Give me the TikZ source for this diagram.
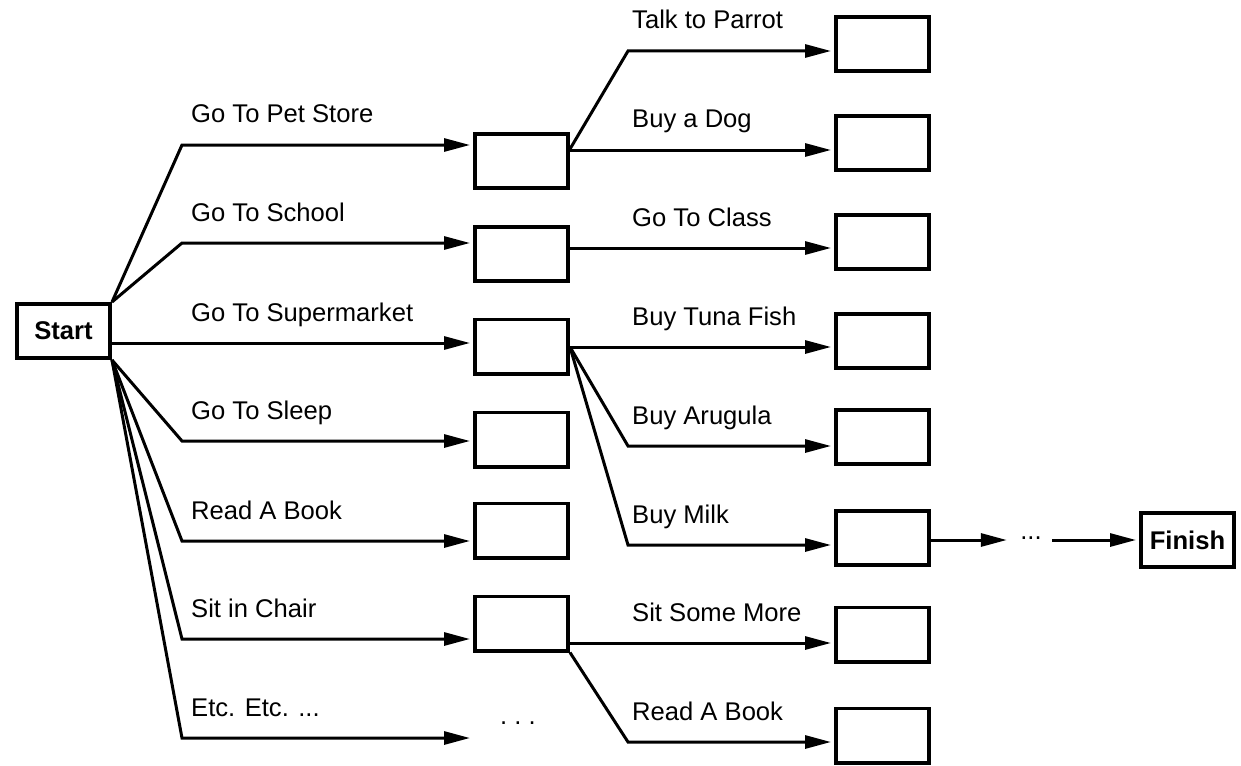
\documentclass[tikz,border=0pt]{standalone}
\usepackage{fontspec}
\setmainfont{Liberation Sans}
\usetikzlibrary{arrows.meta}
\begin{document}
\begin{tikzpicture}[x=1pt,y=-1pt,
  every node/.style={font=\fontsize{25.6}{30}\selectfont},
  box/.style={draw, line width=3.6pt, minimum width=93.4pt, minimum height=54.4pt, inner sep=0pt},
  conn/.style={line width=3pt},
  arr/.style={conn, -{Triangle[length=26pt,width=13pt]}, shorten >=3pt},
  lbl/.style={anchor=base west, inner sep=0pt}]
\useasboundingbox (0,0) rectangle (1241,765);
% nodes
\node[box] (start) at (63.5,331) {\bfseries Start};
\node[box] (pet) at (521.5,161) {};
\node[box] (school) at (521.5,254) {};
\node[box] (super) at (521.5,346.5) {};
\node[box] (sleep) at (521.5,439.5) {};
\node[box] (read) at (521.5,530.5) {};
\node[box] (sit) at (521.5,623.5) {};
\node[anchor=base, inner sep=0pt] (etcdots) at (518,724) {.\ .\ .};
\coordinate (etcend) at (473,738);
\node[box] (parrot) at (882.5,44) {};
\node[box] (dog) at (882.5,143) {};
\node[box] (class) at (882.5,242) {};
\node[box] (tuna) at (882.5,341) {};
\node[box] (arugula) at (882.5,437) {};
\node[box] (milk) at (882.5,538) {};
\node[box] (sitmore) at (882.5,634.5) {};
\node[box] (readmore) at (882.5,735.5) {};
\node[inner sep=0pt, minimum width=42pt, minimum height=8pt] (dots) at (1031,540) {\raisebox{4pt}{...}};
\node[box] (finish) at (1187.5,540) {\bfseries Finish};
% connectors from start
\draw[arr] (start.north east) -- (182,145) -- (pet.west |- 0,145);
\draw[arr] (start.north east) -- (182,243) -- (school.west |- 0,243);
\draw[arr] (start.east |- 0,343) -- (super.west |- 0,343);
\draw[arr] (start.south east) -- (182,441) -- (sleep.west |- 0,441);
\draw[arr] (start.south east) -- (182,541) -- (read.west |- 0,541);
\draw[arr] (start.south east) -- (182,639) -- (sit.west |- 0,639);
\draw[arr] (start.south east) -- (182,738) -- (etcend);
% second level
\draw[arr] (pet.east |- 0,149) -- (628,51) -- (parrot.west |- 0,51);
\draw[arr] (pet.east |- 0,150) -- (dog.west |- 0,150);
\draw[arr] (school.east |- 0,248) -- (class.west |- 0,248);
\draw[arr] (super.east |- 0,347) -- (tuna.west |- 0,347);
\draw[arr] (super.east |- 0,347) -- (628,446) -- (arugula.west |- 0,446);
\draw[arr] (super.east |- 0,347) -- (628,545) -- (milk.west |- 0,545);
\draw[arr] (sit.east |- 0,643) -- (sitmore.west |- 0,643);
\draw[arr] (sit.south east) -- (628,742) -- (readmore.west |- 0,742);
% to finish
\draw[arr] (milk.east |- 0,540) -- (dots.west);
\draw[arr] (dots.east) -- (finish.west);
% labels left
\node[lbl] (l1) at (191,123) {Go To Pet Store};
\node[lbl] (l2) at (191,221) {Go To School};
\node[lbl] (l3) at (191,321) {Go To Supermarket};
\node[lbl] (l4) at (191,419) {Go To Sleep};
\node[lbl] (l5) at (191,519) {Read A Book};
\node[lbl] (l6) at (191,617) {Sit in Chair};
\node[lbl] (l7) at (191,716) {Etc. Etc. ...};
% labels right
\node[lbl] (r1) at (632,29) {Talk to Parrot};
\node[lbl] (r2) at (632,128) {Buy a Dog};
\node[lbl] (r3) at (632,226) {Go To Class};
\node[lbl] (r4) at (632,325) {Buy Tuna Fish};
\node[lbl] (r5) at (632,424) {Buy Arugula};
\node[lbl] (r6) at (632,523) {Buy Milk};
\node[lbl] (r7) at (632,621) {Sit Some More};
\node[lbl] (r8) at (632,720) {Read A Book};
\end{tikzpicture}
\end{document}
